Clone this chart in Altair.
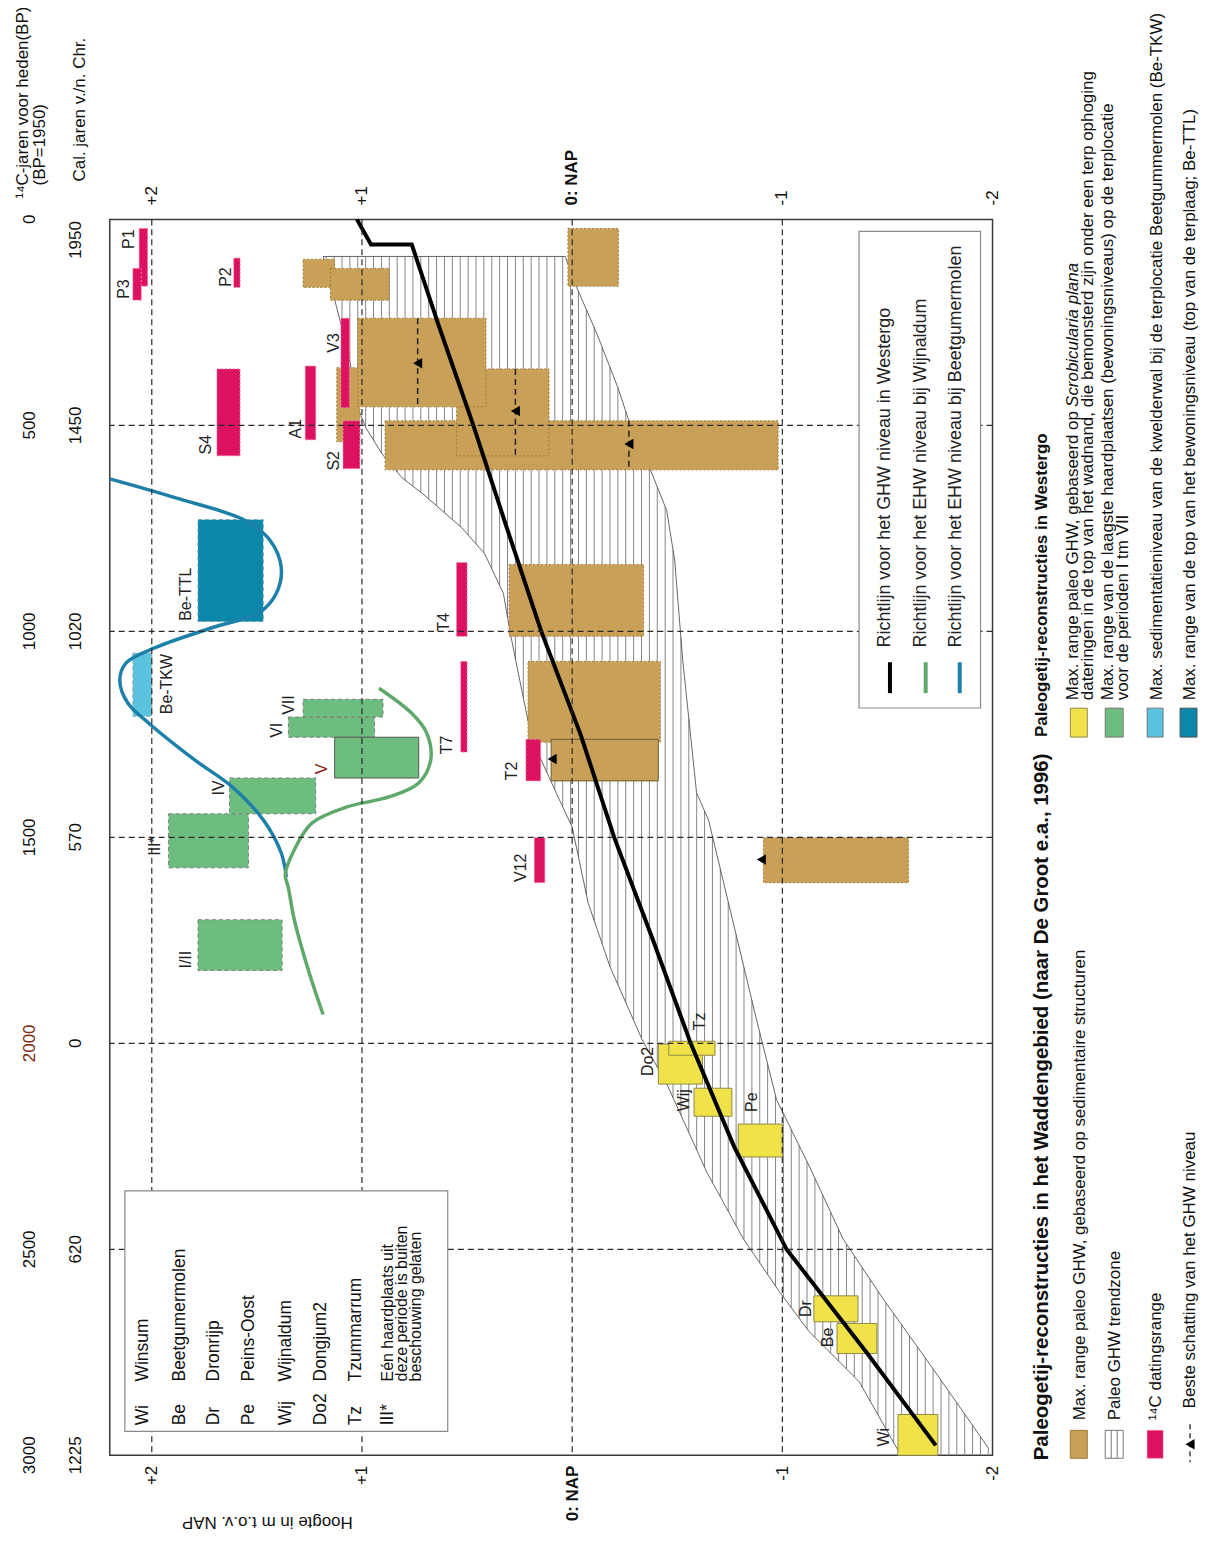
import altair as alt
import numpy as np
import pandas as pd

FONT = "Liberation Sans"
PLOT_W, PLOT_H = 885, 1239

# ---------------- axes ----------------
h_ticks = [2, 1, 0, -1, -2]
h_tick_labels = ["+2", "+1", "0: NAP", "-1", "-2"]
bp_ticks = [0, 500, 1000, 1500, 2000, 2500, 3000]
bp_tick_labels = ["0", "500", "1000", "1500", "2000", "2500", "3000"]
cal_tick_pos = [50, 500, 1000, 1500, 2000, 2500, 3000]
cal_tick_labels = ["1950", "1450", "1020", "570", "0", "620", "1225"]
grid_h = [2, 1, 0, -1]
grid_bp = [500, 1000, 1500, 2000, 2500]

# ---------------- Waddengebied: brown boxes (sedimentary structures) ----------------
brown_h1 = [1.28, 1.15, 0.02, 1.12, 0.89, 0.55, 1.02, 0.30, 0.21, -0.91]
brown_h2 = [1.13, 0.87, -0.22, 1.01, -0.98, 0.11, 0.41, -0.34, -0.42, -1.60]
brown_bp1 = [97, 119, 22, 360, 489, 363, 240, 838, 1073, 1501]
brown_bp2 = [165, 196, 162, 540, 608, 574, 455, 1012, 1269, 1610]
brown_solid_h1 = [0.10]
brown_solid_h2 = [-0.41]
brown_solid_bp1 = [1262]
brown_solid_bp2 = [1363]

# best estimate (triangles) and dashed estimate lines
tri_h = [0.735, 0.27, -0.27, 0.095, -0.90]
tri_bp = [349, 465, 545, 1310, 1554]
est_h = [0.735, 0.27, -0.27]
est_bp1 = [240, 363, 489]
est_bp2 = [455, 574, 608]

# 14C dating ranges (pink)
pink_h1 = [2.06, 2.09, 1.61, 1.69, 1.27, 1.10, 1.09, 0.55, 0.53, 0.22, 0.18]
pink_h2 = [2.02, 2.05, 1.58, 1.58, 1.22, 1.06, 1.01, 0.50, 0.50, 0.15, 0.13]
pink_bp1 = [22, 119, 94, 363, 356, 240, 489, 833, 1073, 1262, 1501]
pink_bp2 = [162, 196, 165, 574, 535, 457, 605, 1012, 1293, 1363, 1610]

# yellow boxes (Scrobicularia plana)
yel_h1 = [-0.41, -0.46, -0.58, -0.79, -1.15, -1.26, -1.55]
yel_h2 = [-0.62, -0.68, -0.76, -1.00, -1.36, -1.45, -1.74]
yel_bp1 = [2002, 1995, 2109, 2196, 2613, 2680, 2901]
yel_bp2 = [2099, 2029, 2177, 2276, 2676, 2753, 3000]

# green boxes (hearth levels I-VII)
grn_h1 = [1.35, 1.28, 1.63, 1.92, 1.78]
grn_h2 = [0.94, 0.90, 1.22, 1.54, 1.38]
grn_bp1 = [1208, 1165, 1356, 1443, 1700]
grn_bp2 = [1257, 1208, 1443, 1574, 1823]
grnV_h1 = [1.13]
grnV_h2 = [0.73]
grnV_bp1 = [1257]
grnV_bp2 = [1356]

# Beetgumermolen
tkw_h1, tkw_h2, tkw_bp1, tkw_bp2 = [2.09], [2.00], [1053], [1206]
ttl_h1, ttl_h2, ttl_bp1, ttl_bp2 = [1.78], [1.47], [729], [976]

# point labels
lab_text = ["P1", "P3", "P2", "S4", "A1", "V3", "S2", "T4", "T7", "T2", "V12",
            "VII", "VI", "IV", "III*", "I/II", "Be-TKW", "Be-TTL",
            "Tz", "Do2", "Wij", "Pe", "Dr", "Be", "Wi"]
lab_h = [2.109, 2.133, 1.649, 1.744, 1.313, 1.133, 1.133, 0.611, 0.597, 0.284, 0.242,
         1.346, 1.403, 1.682, 1.986, 1.839, 1.929, 1.839,
         -0.607, -0.360, -0.531, -0.858, -1.114, -1.218, -1.483]
lab_bp = [48, 169, 140, 547, 508, 300, 586, 978, 1276, 1339, 1574,
          1179, 1240, 1380, 1521, 1797, 1128, 910,
          1947, 2044, 2138, 2143, 2644, 2714, 2956]
labV_h, labV_bp = [1.19], [1334]

# curves
black_h = [1.024, 0.957, 0.763, 0.64, 0.47, 0.31, 0.147, -0.04, -0.20, -0.385, -0.564, -0.77, -1.02, -1.40, -1.73]
black_bp = [0, 61, 61, 250, 500, 750, 1000, 1250, 1500, 1750, 2000, 2250, 2500, 2750, 2976]
blue_h = [2.2, 1.886, 1.555, 1.436, 1.384, 1.408, 1.488, 1.706, 1.981, 2.123, 2.152, 2.114, 2.014, 1.796, 1.616, 1.469, 1.384, 1.360]
blue_bp = [630, 676, 731, 780, 845, 908, 954, 990, 1039, 1077, 1119, 1174, 1223, 1312, 1378, 1458, 1538, 1596]
green_h = [1.185, 1.256, 1.322, 1.351, 1.365, 1.322, 1.237, 1.071, 0.872, 0.730, 0.673, 0.692, 0.763, 0.919]
green_bp = [1930, 1821, 1700, 1620, 1591, 1530, 1465, 1426, 1402, 1368, 1312, 1247, 1199, 1138]

# trend zone boundaries
top_bp = 90
lb_bp = [90, 199, 320, 458, 506, 569, 627, 666, 748, 811, 908, 1005, 1102, 1232, 1312, 1392, 1475, 1659, 1814, 1990, 2104, 2312, 2475, 2603, 2700, 2821, 3000]
lb_h = [1.185, 1.128, 1.066, 1.019, 0.981, 0.905, 0.810, 0.711, 0.526, 0.417, 0.327, 0.294, 0.256, 0.204, 0.147, 0.076, 0.0, -0.076, -0.180, -0.332, -0.455, -0.640, -0.815, -0.986, -1.128, -1.365, -1.564]
rb_bp = [90, 162, 278, 409, 489, 610, 707, 828, 1070, 1392, 1458, 1700, 1942, 2136, 2298, 2475, 2620, 2765, 2879, 2983]
rb_h = [0.033, -0.019, -0.118, -0.218, -0.270, -0.374, -0.450, -0.488, -0.526, -0.592, -0.649, -0.763, -0.877, -0.972, -1.128, -1.289, -1.479, -1.682, -1.839, -1.981]

# ---------------- scales / helpers ----------------
xs = alt.Scale(domain=[2.2, -2.0], nice=False, zero=False)
ys = alt.Scale(domain=[3000, 0], nice=False, zero=False)
x_axis = alt.Axis(
    values=h_ticks,
    labelExpr="datum.value == 0 ? '0: NAP' : (datum.value > 0 ? '+' + datum.value : '' + datum.value)",
    labelAngle=270, labelFontSize=17, labelFont=FONT, labelColor="#111",
    labelFontWeight={"condition": {"test": "datum.value == 0", "value": "bold"}, "value": "normal"},
    ticks=False, domain=False, grid=False, title=None, labelPadding=10,
    labelFlush=False, labelOverlap=False, labelBound=False, orient="bottom")


def X(f):
    return alt.X(f, type="quantitative", scale=xs, axis=x_axis)


def Y(f):
    return alt.Y(f, type="quantitative", scale=ys, axis=None)


def PX(f):
    return alt.X(f, type="quantitative", scale=None, axis=None)


def PY(f):
    return alt.Y(f, type="quantitative", scale=None, axis=None)


def rects(h1, h2, b1, b2, **kw):
    df = pd.DataFrame({"h1": h1, "h2": h2, "b1": b1, "b2": b2})
    return alt.Chart(df).mark_rect(**kw).encode(x=X("h1"), x2="h2", y=Y("b1"), y2="b2")


def line(hh, bb, **kw):
    df = pd.DataFrame({"h": hh, "bp": bb, "o": list(range(len(hh)))})
    return alt.Chart(df).mark_line(**kw).encode(x=X("h"), y=Y("bp"), order="o:Q")


def ptext(rows, size=17, weight="normal", align="left", angle=270, style="normal", color="#111"):
    df = pd.DataFrame(rows, columns=["px", "py", "t"])
    return alt.Chart(df).mark_text(angle=angle, align=align, baseline="middle", fontSize=size,
                                   fontWeight=weight, font=FONT, fontStyle=style, color=color).encode(
        x=PX("px"), y=PY("py"), text="t:N")


def prect(rows, **kw):
    df = pd.DataFrame(rows, columns=["x1", "x2", "y1", "y2"])
    return alt.Chart(df).mark_rect(**kw).encode(x=PX("x1"), x2="x2", y=PY("y1"), y2="y2")


layers = []

# hatch of trend zone: vertical segments (constant height) between the two boundaries
hatch_rows = []
for k, h in enumerate(np.arange(1.17, -2.0, -0.0375)):
    b_end = float(np.interp(-h, -np.array(lb_h), lb_bp))
    b_start = max(top_bp, float(np.interp(-h, -np.array(rb_h), rb_bp)))
    if b_end > b_start:
        hatch_rows.append((k, float(h), b_start, 0))
        hatch_rows.append((k, float(h), b_end, 1))
hatch_df = pd.DataFrame(hatch_rows, columns=["id", "h", "bp", "o"])
layers.append(alt.Chart(hatch_df).mark_line(color="#858585", strokeWidth=1.0).encode(
    x=X("h"), y=Y("bp"), detail="id:N", order="o:Q"))
outline_h = lb_h[::-1] + rb_h
outline_bp = lb_bp[::-1] + rb_bp
layers.append(line(outline_h, outline_bp, color="#555", strokeWidth=0.9))

# boxes
layers.append(rects(brown_h1, brown_h2, brown_bp1, brown_bp2, fill="#c9a058", stroke="#a07a38",
                    strokeWidth=1, strokeDash=[2, 2]))
layers.append(rects(brown_solid_h1, brown_solid_h2, brown_solid_bp1, brown_solid_bp2, fill="#c9a058",
                    stroke="#6b5a3a", strokeWidth=1))
layers.append(rects(pink_h1, pink_h2, pink_bp1, pink_bp2, fill="#dc1160", stroke="#f07aa0",
                    strokeWidth=1, strokeDash=[2, 2]))
layers.append(rects(yel_h1, yel_h2, yel_bp1, yel_bp2, fill="#f1e24a", stroke="#8f8a4a", strokeWidth=1))
layers.append(rects(grn_h1, grn_h2, grn_bp1, grn_bp2, fill="#6dbd7e", stroke="#7d7d7d",
                    strokeWidth=1, strokeDash=[4, 3]))
layers.append(rects(grnV_h1, grnV_h2, grnV_bp1, grnV_bp2, fill="#6dbd7e", stroke="#555", strokeWidth=1))
layers.append(rects(tkw_h1, tkw_h2, tkw_bp1, tkw_bp2, fill="#5bc3de", stroke="#8aa", strokeWidth=1,
                    strokeDash=[4, 3]))
layers.append(rects(ttl_h1, ttl_h2, ttl_bp1, ttl_bp2, fill="#0a87a9", stroke="#5a9fb5", strokeWidth=1,
                    strokeDash=[4, 3]))

# curves
layers.append(line(blue_h, blue_bp, color="#1c80a8", strokeWidth=3.5, interpolate="catmull-rom"))
layers.append(line(green_h, green_bp, color="#5fa86b", strokeWidth=3.5, interpolate="catmull-rom"))
layers.append(line(black_h, black_bp, color="#000", strokeWidth=4, interpolate="linear"))

# grid (dashed, on top of boxes)
layers.append(alt.Chart(pd.DataFrame({"h": grid_h})).mark_rule(
    color="#2a2a2a", strokeWidth=1.2, strokeDash=[6, 4]).encode(x=X("h")))
layers.append(alt.Chart(pd.DataFrame({"bp": grid_bp})).mark_rule(
    color="#2a2a2a", strokeWidth=1.2, strokeDash=[6, 4]).encode(y=Y("bp")))

# best-estimate markers
layers.append(alt.Chart(pd.DataFrame({"h": est_h, "b1": est_bp1, "b2": est_bp2})).mark_rule(
    color="#222", strokeWidth=1.5, strokeDash=[6, 4]).encode(x=X("h"), y=Y("b1"), y2="b2"))
layers.append(alt.Chart(pd.DataFrame({"h": tri_h, "bp": tri_bp})).mark_point(
    shape="triangle-left", filled=True, color="#000", size=110, opacity=1).encode(x=X("h"), y=Y("bp")))

# labels in the plot
layers.append(alt.Chart(pd.DataFrame({"h": lab_h, "bp": lab_bp, "t": lab_text})).mark_text(
    angle=270, align="center", baseline="middle", fontSize=16, font=FONT, color="#222").encode(
    x=X("h"), y=Y("bp"), text="t:N"))
layers.append(alt.Chart(pd.DataFrame({"h": labV_h, "bp": labV_bp, "t": ["V"]})).mark_text(
    angle=270, align="center", baseline="middle", fontSize=16, font=FONT, color="#8b1c12").encode(
    x=X("h"), y=Y("bp"), text="t:N"))

# legend box top right (inside the plot)
layers.append(rects([-1.365], [-1.943], [29], [1186], fill="white", stroke="#8a8a8a", strokeWidth=1.2))
leg_line_h = [-1.512, -1.682, -1.844]
leg_line_col = ["#000", "#5fa86b", "#1c80a8"]
for hh, cc in zip(leg_line_h, leg_line_col):
    layers.append(alt.Chart(pd.DataFrame({"h": [hh], "b1": [1075], "b2": [1150]})).mark_rule(
        color=cc, strokeWidth=4).encode(x=X("h"), y=Y("b1"), y2="b2"))
leg_text_h = [-1.488, -1.659, -1.825]
leg_text = ["Richtlijn voor het GHW niveau in Westergo",
            "Richtlijn voor het EHW niveau bij Wijnaldum",
            "Richtlijn voor het EHW niveau bij Beetgumermolen"]
layers.append(alt.Chart(pd.DataFrame({"h": leg_text_h, "bp": [1039] * 3, "t": leg_text})).mark_text(
    angle=270, align="left", baseline="middle", fontSize=18, font=FONT, color="#222").encode(
    x=X("h"), y=Y("bp"), text="t:N"))

# abbreviation legend box bottom left
layers.append(rects([2.128], [0.592], [2358], [2942], fill="white", stroke="#8a8a8a", strokeWidth=1.2))
abbr = ["Wi", "Be", "Dr", "Pe", "Wij", "Do2", "Tz", "III*"]
abbr_name = ["Winsum", "Beetgumermolen", "Dronrijp", "Peins-Oost", "Wijnaldum", "Dongjum2", "Tzummarrum",
             "Eén haardplaats uit"]
abbr_px = [33, 70, 105, 140, 177, 212, 247, 279]
layers.append(ptext([(p, 1209, a) for p, a in zip(abbr_px, abbr)], size=17.5))
layers.append(ptext([(p, 1165, a) for p, a in zip(abbr_px[:7], abbr_name[:7])], size=17.5))
layers.append(ptext([(279, 1165, abbr_name[7]), (293, 1165, "deze periode is buiten"),
                     (307, 1165, "beschouwing gelaten")], size=16))

# axis tick labels (top + left)
layers.append(alt.Chart(pd.DataFrame({"h": [2, 1, -1, -2], "t": ["+2", "+1", "-1", "-2"]})).mark_text(
    angle=270, align="left", baseline="middle", fontSize=17, font=FONT, color="#111").encode(
    x=X("h"), y=alt.value(-14), text="t:N"))
layers.append(alt.Chart(pd.DataFrame({"h": [0], "t": ["0: NAP"]})).mark_text(
    angle=270, align="left", baseline="middle", fontSize=17, font=FONT, fontWeight="bold",
    color="#111").encode(x=X("h"), y=alt.value(-14), text="t:N"))
bp_col = ["#111"] * 7
bp_col[4] = "#7a2a10"
layers.append(alt.Chart(pd.DataFrame({"bp": bp_ticks, "t": bp_tick_labels, "c": bp_col})).mark_text(
    angle=270, align="center", baseline="middle", fontSize=17, font=FONT).encode(
    x=alt.value(-80), y=Y("bp"), text="t:N", color=alt.Color("c:N", scale=None)))
layers.append(alt.Chart(pd.DataFrame({"bp": cal_tick_pos, "t": cal_tick_labels})).mark_text(
    angle=270, align="center", baseline="middle", fontSize=17, font=FONT, color="#111").encode(
    x=alt.value(-34), y=Y("bp"), text="t:N"))

# axis titles
layers.append(ptext([(-87, -21, "¹⁴C-jaren voor heden(BP)"), (-70, -34, "(BP=1950)"),
                     (-30, -38, "Cal. jaren v./n. Chr.")], size=17))
layers.append(ptext([(158, 1306, "Hoogte in m t.o.v. NAP")], size=17, angle=180, align="center"))

# ---------------- right legend ----------------
layers.append(ptext([(935, 1244, "Paleogetij-reconstructies in het Waddengebied (naar De Groot e.a., 1996)")],
                    size=20.5, weight="bold"))
layers.append(ptext([(935, 519, "Paleogetij-reconstructies in Westergo")], size=17, weight="bold"))
# Waddengebied swatches
layers.append(prect([(963, 980, 1214, 1242)], fill="#c9a058", stroke="#a07a38", strokeWidth=1))
layers.append(prect([(998, 1016, 1214, 1242)], fill="white", stroke="#777", strokeWidth=1))
layers.append(alt.Chart(pd.DataFrame({"px": [1004, 1010], "y1": [1214, 1214], "y2": [1242, 1242]})).mark_rule(
    color="#777", strokeWidth=1).encode(x=PX("px"), y=PY("y1"), y2="y2"))
layers.append(prect([(1040, 1056, 1214, 1242)], fill="#dc1160", stroke="#f07aa0", strokeWidth=1,
                    strokeDash=[2, 2]))
layers.append(alt.Chart(pd.DataFrame({"px": [1083], "y1": [1208], "y2": [1246]})).mark_rule(
    color="#222", strokeWidth=1.3, strokeDash=[5, 4]).encode(x=PX("px"), y=PY("y1"), y2="y2"))
layers.append(alt.Chart(pd.DataFrame({"px": [1083], "py": [1228]})).mark_point(
    shape="triangle-left", filled=True, color="#000", size=110, opacity=1).encode(x=PX("px"), y=PY("py")))
layers.append(ptext([(973, 1204, "Max. range paleo GHW, gebaseerd op sedimentaire structuren"),
                     (1008, 1204, "Paleo GHW trendzone"),
                     (1049, 1204, "¹⁴C datingsrange"),
                     (1083, 1192, "Beste schatting van het GHW niveau")], size=17))
# Westergo swatches
layers.append(prect([(963, 980, 490, 519)], fill="#f1e24a", stroke="#8f8a4a", strokeWidth=1))
layers.append(prect([(998, 1016, 490, 519)], fill="#6dbd7e", stroke="#777", strokeWidth=1))
layers.append(prect([(1040, 1056, 490, 519)], fill="#5bc3de", stroke="#777", strokeWidth=1))
layers.append(prect([(1073, 1090, 490, 519)], fill="#0a87a9", stroke="#555", strokeWidth=1))
layers.append(ptext([(966, 482, "Max. range paleo GHW, gebaseerd op"),
                     (981, 482, "dateringen in de top van het wadnand, die bemonsterd zijn onder een terp ophoging"),
                     (1001, 482, "Max. range van de laagste haardplaatsen (bewoningsniveaus) op de terplocatie"),
                     (1016, 482, "voor de perioden I tm VII"),
                     (1050, 482, "Max. sedimentatieniveau van de kwelderwal bij de terplocatie Beetgummermolen (Be-TKW)"),
                     (1083, 482, "Max. range van de top van het bewoningsniveau (top van de terplaag; Be-TTL)")],
                    size=17))
layers.append(ptext([(966, 188, "Scrobicularia plana")], size=17, style="italic"))

chart = alt.layer(*layers).properties(
    width=PLOT_W, height=PLOT_H,
    autosize=alt.AutoSizeParams(type="none"),
    padding={"left": 102, "top": 210, "right": 208, "bottom": 80},
    background="white",
).configure_view(stroke="#3a3a3a", strokeWidth=1.5)

chart.save("out.html", embed_options={"renderer": "svg", "actions": False})
